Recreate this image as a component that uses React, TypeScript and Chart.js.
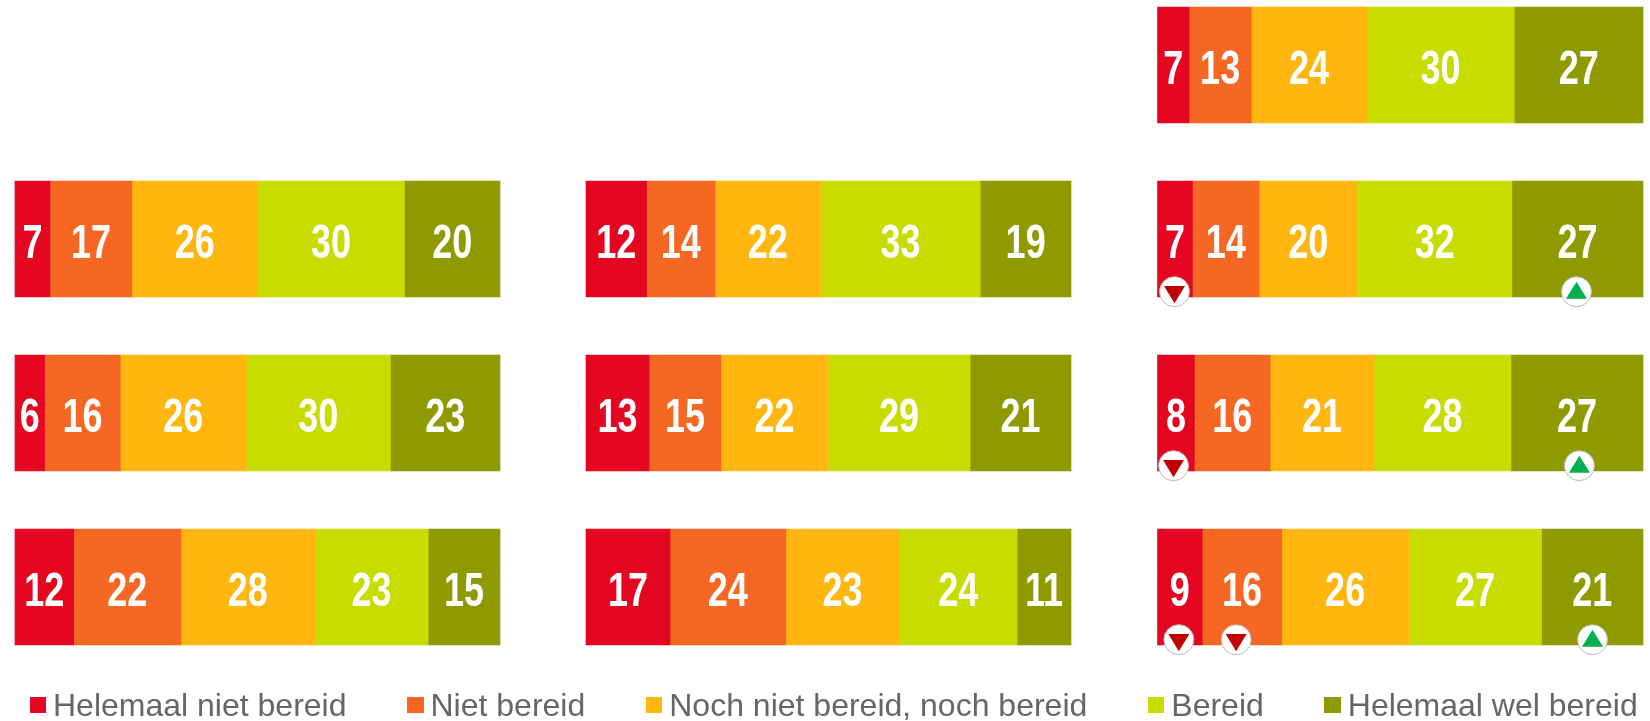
import React, { useEffect, useRef } from "react";
import { Chart, registerables } from "chart.js";

Chart.register(...registerables);

const rows = ["A", "B", "C", "D"];
const seriesNames = ["Helemaal niet bereid", "Niet bereid", "Noch niet bereid, noch bereid", "Bereid", "Helemaal wel bereid"];
const seriesColors = ["#e40521", "#f76724", "#ffb60f", "#c8dc00", "#8f9900"];

// Each column: one array per series, one value per row (null = no bar in that row)
const col1 = [
  [null, 7.2, 6.1, 12.1],
  [null, 16.9, 15.6, 22.1],
  [null, 25.9, 26.0, 27.6],
  [null, 30.3, 29.7, 23.4],
  [null, 19.7, 22.6, 14.8],
];
const col2 = [
  [null, 12.49, 13.0, 17.3],
  [null, 14.1, 14.8, 23.9],
  [null, 21.8, 22.1, 23.4],
  [null, 32.9, 29.3, 24.3],
  [null, 18.71, 20.8, 11.1],
];
const col3 = [
  [6.5, 7.2, 7.6, 9.2],
  [12.8, 13.7, 15.6, 16.4],
  [23.8, 20.3, 21.4, 26.1],
  [30.4, 31.8, 28.2, 27.4],
  [26.5, 27.0, 27.2, 20.9],
];

// Change markers in the third column: row index, value on the axis, direction
const markers = [
  { row: 1, at: 3.5, dir: "down" },
  { row: 1, at: 86.3, dir: "up" },
  { row: 2, at: 3.3, dir: "down" },
  { row: 2, at: 86.9, dir: "up" },
  { row: 3, at: 4.4, dir: "down" },
  { row: 3, at: 16.2, dir: "down" },
  { row: 3, at: 89.6, dir: "up" },
];

const columns = [
  { axis: "x1", values: col1 },
  { axis: "x2", values: col2 },
  { axis: "x3", values: col3 },
];

const valueLabels = {
  id: "valueLabels",
  afterDatasetsDraw(chart: any) {
    const ctx = chart.ctx;
    chart.data.datasets.forEach((ds: any, i: number) => {
      const meta = chart.getDatasetMeta(i);
      meta.data.forEach((bar: any, j: number) => {
        const v = ds.data[j];
        if (v === null || v === undefined) return;
        const { x, base, y } = bar.getProps(["x", "base", "y"], true);
        ctx.save();
        ctx.translate((x + base) / 2, y + 18.5);
        ctx.scale(0.75, 1);
        ctx.font = 'bold 48px "Liberation Sans Narrow", "Liberation Sans"';
        ctx.fillStyle = "#ffffff";
        ctx.textAlign = "center";
        ctx.textBaseline = "alphabetic";
        ctx.fillText(String(Math.round(v)), 0, 0);
        ctx.restore();
      });
    });
  },
};

const changeMarkers = {
  id: "changeMarkers",
  afterDatasetsDraw(chart: any) {
    const ctx = chart.ctx;
    const xs = chart.scales.x3;
    const ys = chart.scales.y;
    markers.forEach((m) => {
      const cx = xs.getPixelForValue(m.at);
      const cy = ys.getPixelForTick(m.row) + 52.7;
      ctx.save();
      ctx.beginPath();
      ctx.arc(cx, cy, 15, 0, Math.PI * 2);
      ctx.fillStyle = "#ffffff";
      ctx.fill();
      ctx.lineWidth = 1;
      ctx.strokeStyle = "#b8b8b8";
      ctx.stroke();
      ctx.beginPath();
      if (m.dir === "down") {
        ctx.moveTo(cx - 10.5, cy - 5.7);
        ctx.lineTo(cx + 10.5, cy - 5.7);
        ctx.lineTo(cx, cy + 11.6);
        ctx.fillStyle = "#c00000";
      } else {
        ctx.moveTo(cx - 10.5, cy + 7);
        ctx.lineTo(cx + 10.5, cy + 7);
        ctx.lineTo(cx, cy - 10);
        ctx.fillStyle = "#00b050";
      }
      ctx.closePath();
      ctx.fill();
      ctx.restore();
    });
  },
};

export default function App() {
  const ref = useRef<HTMLCanvasElement>(null);

  useEffect(() => {
    const datasets: any[] = [];
    columns.forEach((c) => {
      c.values.forEach((vals, s) => {
        datasets.push({
          label: seriesNames[s],
          data: vals,
          backgroundColor: seriesColors[s],
          borderWidth: 0,
          xAxisID: c.axis,
          yAxisID: "y",
          stack: "all",
          barThickness: 116,
          clip: false,
        });
      });
    });
    const xAxis = (weight: number, order: number) => ({
      type: "linear",
      axis: "x",
      position: "bottom",
      display: false,
      stacked: true,
      min: 0,
      max: 100,
      stack: "columns",
      stackWeight: weight,
      weight: order,
      grid: { display: false },
    });
    const chart = new Chart(ref.current as HTMLCanvasElement, {
      type: "bar",
      data: { labels: rows, datasets },
      plugins: [valueLabels, changeMarkers],
      options: {
        indexAxis: "y",
        responsive: false,
        animation: false,
        layout: { padding: { left: 15, right: 7, top: 65, bottom: 134 } },
        plugins: { legend: { display: false }, tooltip: { enabled: false } },
        scales: {
          x1: xAxis(485, 1),
          gapA: xAxis(86, 2),
          x2: xAxis(485, 3),
          gapB: xAxis(86.5, 4),
          x3: xAxis(485.5, 5),
          y: { type: "category", display: false, stacked: true, offset: false, grid: { display: false } },
        },
      } as any,
    } as any);
    return () => chart.destroy();
  }, []);

  return (
    <div style={{ position: "fixed", left: 0, top: 0, width: 1650, height: 721, background: "#fff", overflow: "hidden" }}>
      <canvas ref={ref} width={1650} height={721} style={{ display: "block" }} />
      <div
        style={{
          position: "absolute",
          left: 29.5,
          top: 687,
          display: "flex",
          gap: 60.5,
          whiteSpace: "nowrap",
          font: '32px "Liberation Sans"',
          lineHeight: "36px",
          color: "#63666a",
        }}
      >
        {seriesNames.map((n, i) => (
          <div key={n} style={{ display: "flex", alignItems: "center" }}>
            <span style={{ width: 16.5, height: 16.5, background: seriesColors[i], marginRight: 7, display: "block" }} />
            <span>{n}</span>
          </div>
        ))}
      </div>
    </div>
  );
}
